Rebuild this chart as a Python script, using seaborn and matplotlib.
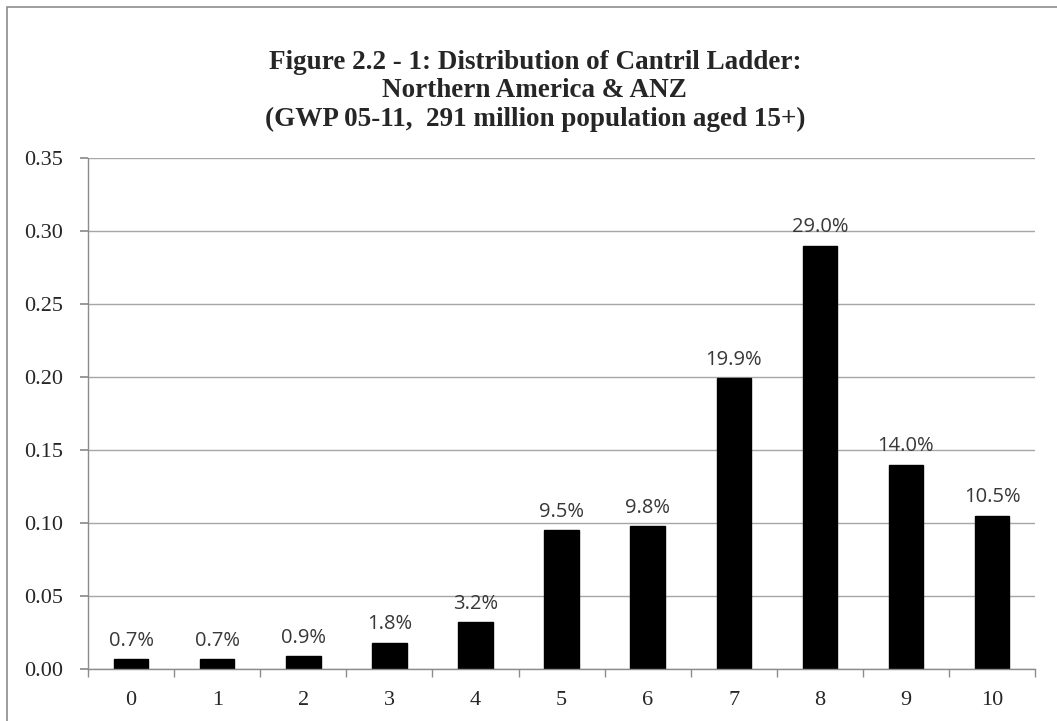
import pandas as pd
import seaborn as sns
import matplotlib.pyplot as plt
from matplotlib.patches import Rectangle

# Cantril ladder steps and share of population
steps = ["0", "1", "2", "3", "4", "5", "6", "7", "8", "9", "10"]
shares = [0.007, 0.007, 0.009, 0.018, 0.032, 0.095, 0.098, 0.199, 0.290, 0.140, 0.105]
y_ticks = [0.00, 0.05, 0.10, 0.15, 0.20, 0.25, 0.30, 0.35]

df = pd.DataFrame({"Step": steps, "Share": shares})

sns.set_theme(style="white")
plt.rcParams['font.family'] = ['Liberation Serif', 'DejaVu Serif']

fig = plt.figure(figsize=(10.57, 7.21), dpi=100)
ax = fig.add_axes([0.0833, 0.072, 0.896, 0.709])

sns.barplot(data=df, x="Step", y="Share", color="black", width=0.4,
            saturation=1, edgecolor="black", ax=ax)

# percentage labels above bars
for i, v in enumerate(shares):
    ax.annotate(f"{v*100:.1f}%", (i, v), xytext=(0, 6), textcoords="offset points",
                ha="center", va="bottom", fontsize=14.5, color="#383838",
                family=["Open Sans", "DejaVu Sans"])

ax.set_ylim(0, 0.35)
ax.set_xlim(-0.5, len(steps) - 0.5)
ax.set_yticks(y_ticks)
ax.set_yticklabels([f"{t:.2f}" for t in y_ticks])
ax.yaxis.grid(True, color="#a6a6a6", linewidth=1)
ax.set_axisbelow(True)

# x ticks at category boundaries, labels centred
ax.set_xticks([i for i in range(len(steps))])
ax.set_xticklabels(steps)
ax.set_xticks([i - 0.5 for i in range(len(steps) + 1)], minor=True)
ax.tick_params(axis="x", which="major", length=0, labelsize=16, pad=16)
ax.tick_params(axis="x", which="minor", length=6, color="#8c8c8c", direction="out", bottom=True)
ax.tick_params(axis="y", which="major", length=6, color="#8c8c8c", direction="out", left=True,
               labelsize=16, pad=12)

for side in ["top", "right"]:
    ax.spines[side].set_visible(False)
for side in ["left", "bottom"]:
    ax.spines[side].set_color("#8c8c8c")
    ax.spines[side].set_linewidth(1)

ax.set_xlabel("")
ax.set_ylabel("")

fig.text(0.506, 0.874, "Figure 2.2 - 1: Distribution of Cantril Ladder:\nNorthern America & ANZ\n(GWP 05-11,  291 million population aged 15+)",
         ha="center", va="center", fontsize=19.5, fontweight="bold", linespacing=1.17)

# outer chart border
fig.patches.append(Rectangle((0.0066, -0.05), 1.1, 1.04, transform=fig.transFigure,
                             fill=False, edgecolor="#8c8c8c", linewidth=1.2))

plt.savefig("out.png", dpi=100)
